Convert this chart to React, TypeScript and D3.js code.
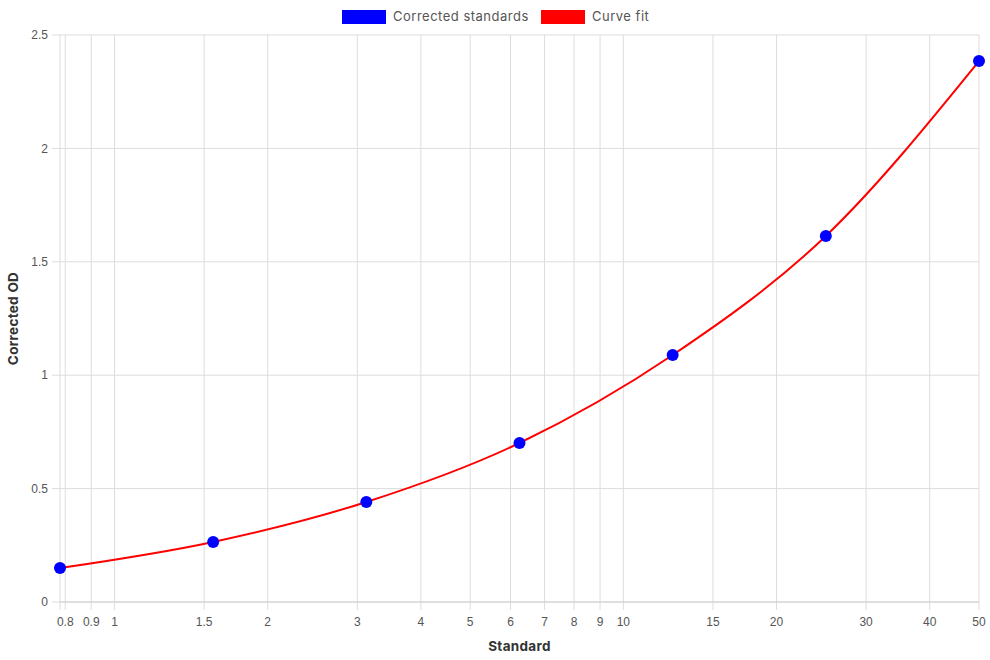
import React from "react";
import * as d3 from "d3";

// standards (doubling dilution) and their corrected OD readings
const standards = [0.78125, 1.5625, 3.125, 6.25, 12.5, 25, 50];
const correctedOD = [0.15, 0.265, 0.441, 0.701, 1.089, 1.614, 2.385];

const xTicks = [0.8, 0.9, 1, 1.5, 2, 3, 4, 5, 6, 7, 8, 9, 10, 15, 20, 30, 40, 50];
const yTicks = [0, 0.5, 1, 1.5, 2, 2.5];

const legendItems = [
  { label: "Corrected standards", color: "#0000ff" },
  { label: "Curve fit", color: "#ff0000" },
];

const W = 990;
const H = 660;
const left = 60;
const right = 979;
const top = 35;
const bottom = 602;

const tickFont = "'Liberation Sans', Arial, sans-serif";
const labelFont = "Inter, 'Open Sans', sans-serif";
const grid = "#dddddd";

export default function App() {
  const x = d3.scaleLog().domain([standards[0], 50]).range([left, right]);
  const y = d3.scaleLinear().domain([0, 2.5]).range([bottom, top]);

  const pts: [number, number][] = standards.map((s, i) => [x(s), y(correctedOD[i])]);
  const line = d3.line().curve(d3.curveMonotoneX)(pts) || "";

  const fmt = d3.format("~g");

  // legend layout
  let lx = 342;
  const legend = legendItems.map((d) => {
    const g = (
      <g key={d.label} transform={`translate(${lx},10)`}>
        <rect x={0} y={0} width={44} height={14} fill={d.color} />
        <text x={51} y={11} fontSize={13} letterSpacing={0.5} fill="#555" fontFamily={labelFont}>
          {d.label}
        </text>
      </g>
    );
    lx += d.label === "Corrected standards" ? 199 : 0;
    return g;
  });

  return (
    <svg width={W} height={H} style={{ position: "absolute", left: 0, top: 0 }}>
      <rect width={W} height={H} fill="#fff" />
      {legend}

      {/* horizontal grid */}
      {yTicks.map((t) => (
        <g key={"y" + t}>
          <line x1={left - 8} x2={right} y1={y(t)} y2={y(t)} stroke={grid} strokeWidth={1} />
          <text
            x={left - 12}
            y={y(t)}
            dy="0.35em"
            textAnchor="end"
            fontSize={12}
            fill="#555"
            fontFamily={tickFont}
          >
            {fmt(t)}
          </text>
        </g>
      ))}

      {/* vertical grid */}
      <line x1={left} x2={left} y1={top} y2={bottom + 8} stroke={grid} />
      {xTicks.map((t) => (
        <g key={"x" + t}>
          <line x1={x(t)} x2={x(t)} y1={top} y2={bottom + 8} stroke={grid} strokeWidth={1} />
          <text
            x={x(t)}
            y={bottom + 24}
            textAnchor="middle"
            fontSize={12}
            fill="#555"
            fontFamily={tickFont}
          >
            {fmt(t)}
          </text>
        </g>
      ))}
      <line x1={left} x2={right} y1={bottom} y2={bottom} stroke="#cfcfcf" />

      {/* axis titles */}
      <text
        x={(left + right) / 2}
        y={651}
        textAnchor="middle"
        fontSize={13.5}
        fontWeight="bold"
        letterSpacing={0.3}
        fill="#333"
        fontFamily={labelFont}
      >
        Standard
      </text>
      <text
        transform={`translate(18,${(top + bottom) / 2}) rotate(-90)`}
        textAnchor="middle"
        fontSize={13.5}
        fontWeight="bold"
        letterSpacing={0.3}
        fill="#333"
        fontFamily={labelFont}
      >
        Corrected OD
      </text>

      <path d={line} fill="none" stroke="#ff0000" strokeWidth={2} />
      {pts.map((p, i) => (
        <circle key={i} cx={p[0]} cy={p[1]} r={6} fill="#0000ff" />
      ))}
    </svg>
  );
}
